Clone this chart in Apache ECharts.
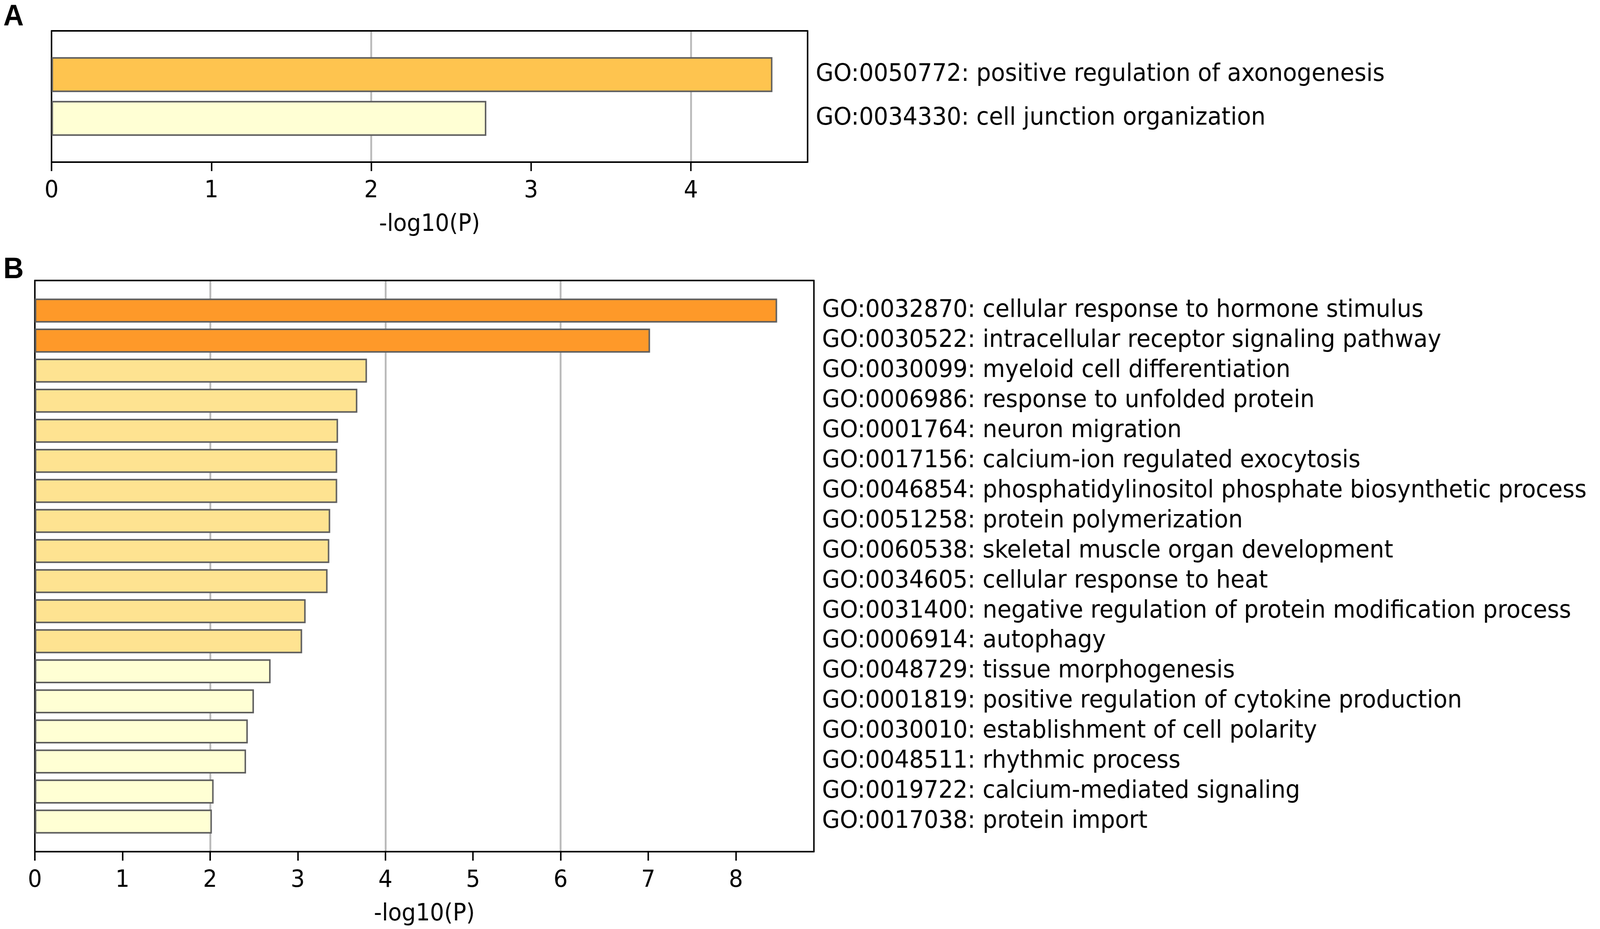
<!DOCTYPE html>
<html>
<head>
<meta charset="utf-8">
<title>GO enrichment</title>
<script src="https://cdn.jsdelivr.net/npm/echarts@6/dist/echarts.min.js"></script>
<style>
html, body { margin: 0; padding: 0; background: #fff; overflow: hidden; }
#chart { width: 4317px; height: 2378px; transform-origin: 0 0; }
</style>
</head>
<body>
<div id="chart"></div>
<script type="text/javascript">
// panel A
var termsA = [
	'GO:0050772: positive regulation of axonogenesis',
	'GO:0034330: cell junction organization'
];
var valuesA = [4.51, 2.72];
var ticksA = [0, 1, 2, 3, 4];
var gridLinesA = [2, 4];

// panel B
var termsB = [
	'GO:0032870: cellular response to hormone stimulus',
	'GO:0030522: intracellular receptor signaling pathway',
	'GO:0030099: myeloid cell differentiation',
	'GO:0006986: response to unfolded protein',
	'GO:0001764: neuron migration',
	'GO:0017156: calcium-ion regulated exocytosis',
	'GO:0046854: phosphatidylinositol phosphate biosynthetic process',
	'GO:0051258: protein polymerization',
	'GO:0060538: skeletal muscle organ development',
	'GO:0034605: cellular response to heat',
	'GO:0031400: negative regulation of protein modification process',
	'GO:0006914: autophagy',
	'GO:0048729: tissue morphogenesis',
	'GO:0001819: positive regulation of cytokine production',
	'GO:0030010: establishment of cell polarity',
	'GO:0048511: rhythmic process',
	'GO:0019722: calcium-mediated signaling',
	'GO:0017038: protein import'
];
var valuesB = [8.47, 7.02, 3.79, 3.68, 3.46, 3.45, 3.45, 3.37, 3.36, 3.34, 3.09, 3.05, 2.69, 2.50, 2.43, 2.41, 2.04, 2.02];
var ticksB = [0, 1, 2, 3, 4, 5, 6, 7, 8];
var gridLinesB = [2, 4, 6];

var FONT = 'DejaVu Sans';

// the page is laid out at 4317x2378; squeeze it into whatever viewport we get
var dom = document.getElementById('chart');
var kx = window.innerWidth / 4317, ky = window.innerHeight / 2378;
if (Math.abs(kx - 1) > 0.002 || Math.abs(ky - 1) > 0.002) {
	dom.style.transform = 'scale(' + kx + ',' + ky + ')';
}

// one empty slot above and below, like the padding matplotlib leaves
function padded(terms) {
	return [''].concat(terms, ['']);
}

function toPairs(vals) {
	return vals.map(function (v, i) { return [v, i + 1]; });
}

// bottom axis with ticks + labels, top axis carries the grey grid lines
function xAxes(grid, max, ticks, lines) {
	return [{
		type: 'value', gridIndex: grid, position: 'bottom', min: 0, max: max, interval: 1,
		axisLine: { show: true, onZero: false, lineStyle: { color: '#000', width: 4 } },
		axisTick: { show: true, length: 23, customValues: ticks, lineStyle: { color: '#000', width: 4 } },
		axisLabel: { customValues: ticks, margin: 44, fontSize: 60, fontFamily: FONT, color: '#000' },
		splitLine: { show: false },
		name: '-log10(P)', nameLocation: 'middle', nameGap: 130,
		nameTextStyle: { fontSize: 60, fontFamily: FONT, color: '#000' }
	}, {
		type: 'value', gridIndex: grid, position: 'top', min: 0, max: max, interval: 2,
		axisLine: { show: true, onZero: false, lineStyle: { color: '#000', width: 4 } },
		axisTick: { show: false, customValues: lines },
		axisLabel: { show: false, customValues: lines },
		splitLine: { show: true, lineStyle: { color: '#bababa', width: 5 } }
	}];
}

function yAxes(grid, terms) {
	var cats = padded(terms);
	return [{
		type: 'category', gridIndex: grid, position: 'left', data: cats, boundaryGap: false, inverse: true,
		axisLine: { show: true, onZero: false, lineStyle: { color: '#000', width: 4 } },
		axisTick: { show: false },
		axisLabel: { show: false },
		splitLine: { show: false }
	}, {
		type: 'category', gridIndex: grid, position: 'right', data: cats, boundaryGap: false, inverse: true,
		axisLine: { show: true, onZero: false, lineStyle: { color: '#000', width: 4 } },
		axisTick: { show: false },
		axisLabel: { interval: 0, margin: 22, fontSize: 62, fontFamily: FONT, color: '#000' },
		splitLine: { show: false }
	}];
}

var gridA = { left: 139, top: 79, width: 2040, height: 336 };
var gridB = { left: 94, top: 718, width: 2102, height: 1462 };

var barStyle = { borderColor: '#5e5e5e', borderWidth: 4 };

var option = {
	backgroundColor: '#fff',
	animation: false,
	title: [
		{ text: 'A', left: 9, top: 6, padding: 0, textStyle: { fontSize: 76, fontWeight: 'bold', fontFamily: 'Liberation Sans', color: '#000' } },
		{ text: 'B', left: 9, top: 653, padding: 0, textStyle: { fontSize: 76, fontWeight: 'bold', fontFamily: 'Liberation Sans', color: '#000' } }
	],
	grid: [gridA, gridB],
	xAxis: xAxes(0, 4.73, ticksA, gridLinesA).concat(xAxes(1, 8.89, ticksB, gridLinesB)),
	yAxis: yAxes(0, termsA).concat(yAxes(1, termsB)),
	visualMap: {
		type: 'piecewise', show: false, dimension: 0, seriesIndex: [0, 1],
		pieces: [
			{ lt: 3, color: '#ffffd4' },
			{ gte: 3, lt: 4, color: '#fee391' },
			{ gte: 4, lt: 6, color: '#fec44f' },
			{ gte: 6, color: '#fe9929' }
		]
	},
	series: [{
		type: 'bar', xAxisIndex: 0, yAxisIndex: 0,
		barWidth: gridA.height / (termsA.length + 1) * 0.8,
		itemStyle: barStyle,
		data: toPairs(valuesA)
	}, {
		type: 'bar', xAxisIndex: 2, yAxisIndex: 2,
		barWidth: gridB.height / (termsB.length + 1) * 0.8,
		itemStyle: barStyle,
		data: toPairs(valuesB)
	}]
};

var myChart = echarts.init(dom);
myChart.setOption(option);
</script>
</body>
</html>
